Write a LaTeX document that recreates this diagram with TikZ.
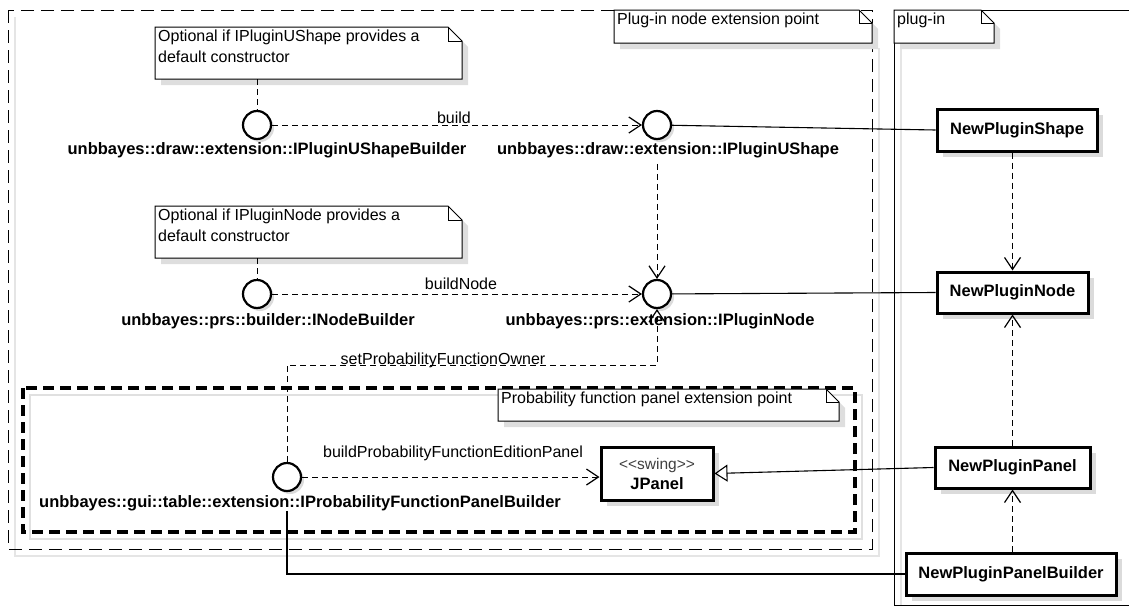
\documentclass[tikz,border=0pt]{standalone}
\usepackage{fontspec}
\setmainfont{Liberation Sans}
\newfontfamily\plainfont{Liberation Sans}
\usetikzlibrary{arrows.meta,shadows,fit,calc}
\newcommand\umlnote[7]{%
  \fill[black!13] (#2+6,#3+6) -- (#4+6-#6,#3+6) -- (#4+6,#3+6+#6) -- (#4+6,#5+6) -- (#2+6,#5+6) -- cycle;
  \draw[notel, fill=white] (#2,#3) -- (#4-#6,#3) -- (#4,#3+#6) -- (#4,#5) -- (#2,#5) -- cycle;
  \draw[notel] (#4-#6,#3) -- (#4-#6,#3+#6) -- (#4,#3+#6);
  \node[fit={(#2,#3) (#4,#5)}, inner sep=0pt] (#1) {};
  \node[txt, anchor=north west, align=left] (#1t) at (#2+3,#3+3) {#7};
}
\begin{document}
\begin{tikzpicture}[x=1pt,y=-1pt,
  lbl/.style={font=\fontsize{16.5}{19}\selectfont\bfseries, inner sep=0pt},
  txt/.style={font=\fontsize{16}{21}\selectfont, inner sep=0pt},
  notel/.style={line width=1pt},
  shad/.style={drop shadow={shadow xshift=6pt, shadow yshift=-6pt, fill=black!14, opacity=1}},
  iface/.style={circle, draw, line width=2.2pt, fill=white, minimum size=28pt, inner sep=0pt,
    drop shadow={shadow xshift=3pt, shadow yshift=-3pt, fill=black!14, opacity=1}},
  cls/.style={draw, line width=3pt, fill=white, minimum height=41pt, inner sep=0pt,
    font=\fontsize{16.5}{19}\selectfont\bfseries, shad},
  dashln/.style={line width=1pt, dash pattern=on 6pt off 4pt},
  dep/.style={dashln, -{Straight Barb[length=12pt,width=16pt,line width=1.2pt]}},
  link/.style={line width=1.1pt},
]
\useasboundingbox (0,0) rectangle (1129,608);

% outer package frame
\draw[black!10, line width=1.2pt] (15,17) -- (15,556) -- (879,556) -- (879,48);
\draw[line width=0.9pt, dash pattern=on 13pt off 7pt] (8,10) rectangle (872,549);
\umlnote{ep}{614}{10}{872}{43}{13}{Plug-in node extension point}

% plug-in frame
\draw[black!10, line width=1.2pt] (901,43) -- (901,605);
\draw[line width=1pt] (1135,10) -- (894,10) -- (894,605) -- (1135,605);
\umlnote{pi}{894}{10}{994}{43}{13}{plug-in}

% thick dashed box
\draw[black!12, line width=1.5pt] (30,395) rectangle (862,539);
\draw[line width=3.2pt, dash pattern=on 11pt off 6pt] (23,388) rectangle (855,532);
\umlnote{pe}{498}{389}{839}{421}{13}{Probability function panel extension point}

% notes
\umlnote{n1}{155}{27}{462}{79}{14}{Optional if IPluginUShape provides a\\default constructor}
\umlnote{n2}{155}{206}{462}{258}{14}{Optional if IPluginNode provides a\\default constructor}

% interfaces
\node[iface] (c1) at (257,125) {};
\node[lbl] (c1l) at (267,150) {unbbayes::draw::extension::IPluginUShapeBuilder};
\node[iface] (c2) at (657,125) {};
\node[lbl] (c2l) at (668,150) {unbbayes::draw::extension::IPluginUShape};
\node[iface] (c4) at (257,294) {};
\node[lbl] (c4l) at (268,321) {unbbayes::prs::builder::INodeBuilder};
\node[iface] (c3) at (657,294) {};
\node[lbl] (c3l) at (660,321) {unbbayes::prs::extension::IPluginNode};
\node[iface] (c5) at (287,477) {};
\node[lbl] (c5l) at (300,503) {unbbayes::gui::table::extension::IProbabilityFunctionPanelBuilder};

% classes
\node[cls, minimum width=160pt, minimum height=42pt] (nps) at (1017,130) {NewPluginShape};
\node[cls, minimum width=151pt] (npn) at (1012.5,292.5) {NewPluginNode};
\node[cls, minimum width=155pt] (npp) at (1012.5,467.5) {NewPluginPanel};
\node[cls, minimum width=210pt, minimum height=42pt] (nppb) at (1011,574) {NewPluginPanelBuilder};
\node[cls, minimum width=112pt, minimum height=53pt, align=center,
  font=\fontsize{16.5}{20}\selectfont\bfseries] (jp) at (657,473.5)
  {{\plainfont\mdseries\fontsize{15.5}{17}\selectfont\color{black!75}<<swing>>}\\JPanel};

% connector labels
\node[txt, anchor=base] (lb1) at (454,123) {build};
\node[txt, anchor=base] (lb2) at (461,289) {buildNode};
\node[txt, anchor=base] (lb3) at (443,364) {setProbabilityFunctionOwner};
\node[txt, anchor=base] (lb4) at (453,457) {buildProbabilityFunctionEditionPanel};
\coordinate (sp) at (657,365);

% connectors
\draw[dashln] (n1.south -| c1) -- (c1);
\draw[dashln] (n2.south -| c4) -- (c4);
\draw[dep] (c1) -- (c2);
\draw[dep] (c4) -- (c3);
\draw[dep] ($(c2 |- c2l.south)+(0,6)$) -- (c3);
\draw[dep] (c5) |- (sp) -- (c3);
\draw[dep] (c5) -- (jp.west |- c5);
\draw[link] (c2) -- (nps.west);
\draw[link] (c3) -- (npn.west);
\draw[link, -{Triangle[open, length=13pt, width=17pt, line width=1.1pt]}] (npp.west) -- (jp.east);
\draw[link] (c5 |- c5l.south) |- (nppb.west);
\draw[dep] (npn |- nps.south) -- (npn.north);
\draw[dep] (npp.north) -- (npn.south);
\draw[dep] (nppb.north -| npp) -- (npp.south);
\end{tikzpicture}
\end{document}
